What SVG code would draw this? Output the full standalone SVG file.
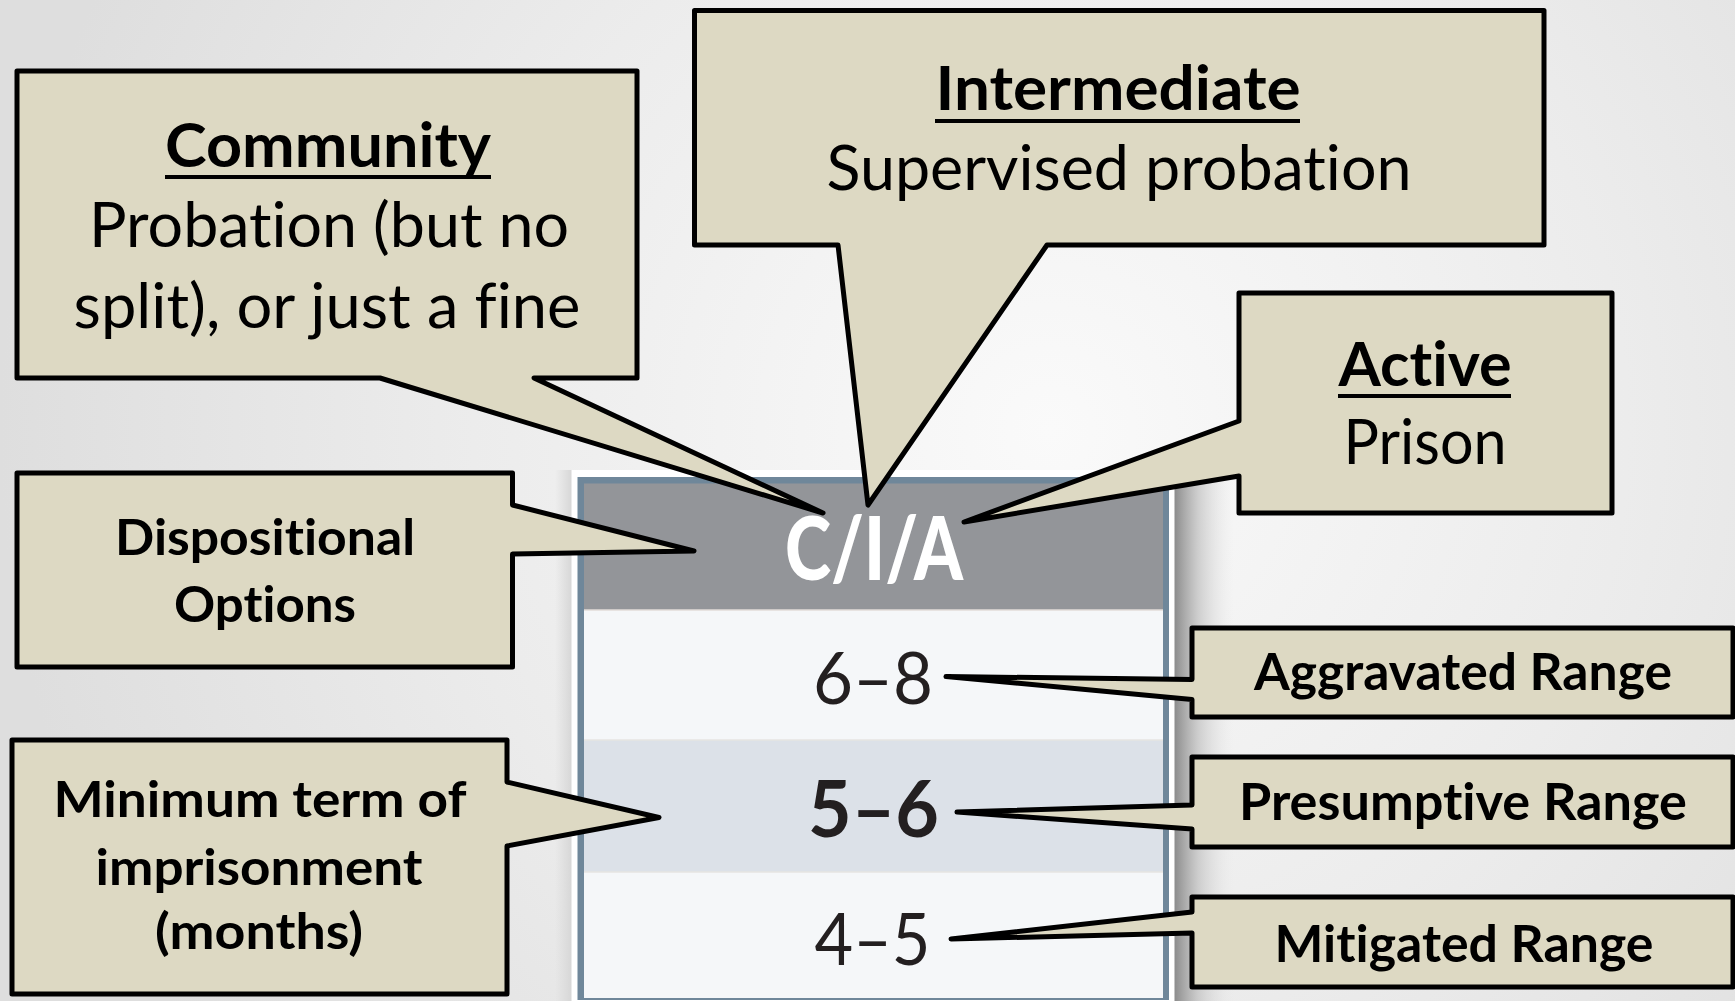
<svg xmlns="http://www.w3.org/2000/svg" width="1735" height="1001" viewBox="0 0 1735 1001">
  <defs>
    <radialGradient id="bg" gradientUnits="userSpaceOnUse" cx="1050" cy="430" r="1050">
      <stop offset="0" stop-color="#fafafa"/>
      <stop offset="0.55" stop-color="#ececec"/>
      <stop offset="1" stop-color="#dedede"/>
    </radialGradient>
    <linearGradient id="shadowR" x1="0" y1="0" x2="1" y2="0">
      <stop offset="0" stop-color="#8a8a8a"/>
      <stop offset="0.4" stop-color="#c4c4c4" stop-opacity="0.8"/>
      <stop offset="1" stop-color="#e6e6e6" stop-opacity="0"/>
    </linearGradient>
    <linearGradient id="shadowL" x1="0" y1="0" x2="1" y2="0">
      <stop offset="0" stop-color="#d8d8d8" stop-opacity="0"/>
      <stop offset="1" stop-color="#d6d6d6"/>
    </linearGradient>
    <style>
      text { font-variant-ligatures: none; font-feature-settings: "liga" 0, "dlig" 0, "clig" 0; }
      .callout { fill: #ddd9c3; stroke: #000; stroke-width: 5; stroke-linejoin: round; }
      .t { font-family: Lato, "Liberation Sans", sans-serif; fill: #000; text-anchor: middle; }
      .reg { font-weight: 400; font-size: 61px; }
      .bold60 { font-weight: 700; font-size: 61px; }
      .bold49 { font-weight: 700; font-size: 50px; }
      .bold50 { font-weight: 700; font-size: 51px; }
      .ul { stroke: #000; stroke-width: 4; }
      .num { font-family: Lato, "Liberation Sans", sans-serif; fill: #231f20; text-anchor: middle; }
    </style>
  </defs>

  <rect width="1735" height="1001" fill="url(#bg)"/>

  <!-- Table -->
  <g id="table">
    <rect x="555" y="470" width="17" height="531" fill="url(#shadowL)"/>
    <rect x="1174" y="470" width="60" height="531" fill="url(#shadowR)"/>
    <rect x="571.5" y="470" width="603" height="540" fill="#ffffff"/>
    <rect x="577.5" y="477" width="591.5" height="523" fill="#6f879a"/>
    <rect x="584" y="483.5" width="579" height="126.5" fill="#939599"/>
    <rect x="584" y="610" width="579" height="130" fill="#f5f7f9"/>
    <rect x="584" y="740" width="579" height="132" fill="#dce1e8"/>
    <rect x="584" y="872" width="579" height="126" fill="#f5f7f9"/>
    <line x1="584" y1="610" x2="1163" y2="610" stroke="#e2ddd8" stroke-width="1.5"/>
    <line x1="584" y1="740" x2="1163" y2="740" stroke="#e6e4e2" stroke-width="1.5"/>
    <line x1="584" y1="872" x2="1163" y2="872" stroke="#e6e4e2" stroke-width="1.5"/>
    <text x="874" y="580" font-family="Lato, 'Liberation Sans', sans-serif" font-weight="900" font-size="88" fill="#ffffff" text-anchor="middle" textLength="178" lengthAdjust="spacingAndGlyphs">C/I/A</text>
    <text class="num" x="873" y="704" font-size="72" font-weight="400" textLength="120" lengthAdjust="spacingAndGlyphs">6–8</text>
    <text class="num" x="873.5" y="836.5" font-size="78" font-weight="700" textLength="131" lengthAdjust="spacingAndGlyphs">5–6</text>
    <text class="num" x="872.5" y="965" font-size="72" font-weight="400" textLength="116" lengthAdjust="spacingAndGlyphs">4–5</text>
  </g>

  <!-- Callouts (shapes include their pointer connectors) -->
  <g id="connectors">
    <path class="callout" d="M17,71 H637 V378 H534 L823,513 L380,378 H17 Z"/>
    <path class="callout" d="M694.5,10.5 H1544 V245 H1047 L868,505 L838,245 H694.5 Z"/>
    <path class="callout" d="M1239,293 H1612 V513 H1239 V476 L964,522 L1239,421 Z"/>
    <path class="callout" d="M17,473 H512.5 V505 L694,551 L512.5,554 V667 H17 Z"/>
    <path class="callout" d="M12,740 H507 V782 L659,817.5 L507,846 V994 H12 Z"/>
    <path class="callout" d="M1192,628 H1733 V717 H1192 V699.5 L946,676.5 L1192,679.5 Z"/>
    <path class="callout" d="M1192,757 H1733 V847 H1192 V829 L957,812 L1192,805 Z"/>
    <path class="callout" d="M1192,897 H1733 V987 H1192 V933 L951,939 L1192,912 Z"/>
  </g>

  <g id="community">
    <text class="t bold60" x="328" y="167" textLength="326" lengthAdjust="spacingAndGlyphs">Community</text>
    <line class="ul" x1="165" y1="177" x2="491" y2="177"/>
    <text class="t reg" x="329" y="247" textLength="480" lengthAdjust="spacingAndGlyphs">Probation (but no</text>
    <text class="t reg" x="327" y="328" textLength="507" lengthAdjust="spacingAndGlyphs">split), or just a fine</text>
  </g>

  <g id="intermediate">
    <text class="t bold60" x="1118" y="110" textLength="365" lengthAdjust="spacingAndGlyphs">Intermediate</text>
    <line class="ul" x1="935" y1="121" x2="1300" y2="121"/>
    <text class="t reg" x="1119" y="190" textLength="585" lengthAdjust="spacingAndGlyphs">Supervised probation</text>
  </g>

  <g id="active">
    <text class="t bold60" x="1425" y="386" textLength="173" lengthAdjust="spacingAndGlyphs">Active</text>
    <line class="ul" x1="1338" y1="396" x2="1511" y2="396"/>
    <text class="t reg" x="1425" y="464" textLength="163" lengthAdjust="spacingAndGlyphs">Prison</text>
  </g>

  <g id="dispositional">
    <text class="t bold49" x="265" y="555" textLength="300" lengthAdjust="spacingAndGlyphs">Dispositional</text>
    <text class="t bold49" x="265" y="622" textLength="182" lengthAdjust="spacingAndGlyphs">Options</text>
  </g>

  <g id="minimum">
    <text class="t bold49" x="260" y="817" textLength="413" lengthAdjust="spacingAndGlyphs">Minimum term of</text>
    <text class="t bold49" x="259" y="885" textLength="327" lengthAdjust="spacingAndGlyphs">imprisonment</text>
    <text class="t bold49" x="259" y="949" textLength="208" lengthAdjust="spacingAndGlyphs">(months)</text>
  </g>

  <g id="aggravated">
    <text class="t bold50" x="1463" y="690" textLength="418" lengthAdjust="spacingAndGlyphs">Aggravated Range</text>
  </g>
  <g id="presumptive">
    <text class="t bold50" x="1463" y="820" textLength="448" lengthAdjust="spacingAndGlyphs">Presumptive Range</text>
  </g>
  <g id="mitigated">
    <text class="t bold50" x="1464" y="962" textLength="379" lengthAdjust="spacingAndGlyphs">Mitigated Range</text>
  </g>
</svg>
